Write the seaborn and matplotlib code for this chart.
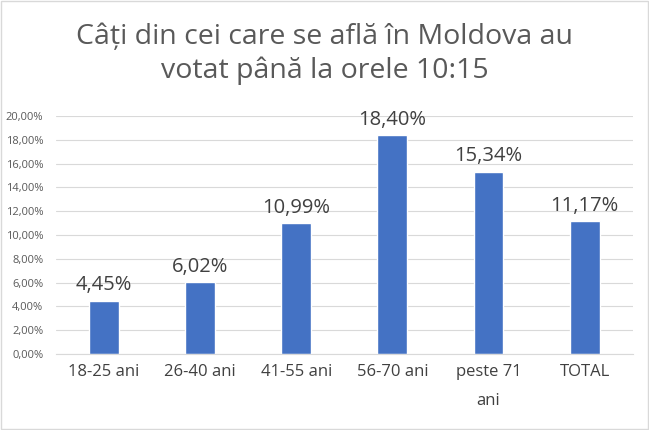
import numpy as np
import pandas as pd
import matplotlib
matplotlib.use("Agg")
import matplotlib.pyplot as plt
import seaborn as sns

categories = ["18-25 ani", "26-40 ani", "41-55 ani", "56-70 ani", "peste 71\nani", "TOTAL"]
values = [4.45, 6.02, 10.99, 18.40, 15.34, 11.17]
labels = ["4,45%", "6,02%", "10,99%", "18,40%", "15,34%", "11,17%"]
yticks = [0, 2, 4, 6, 8, 10, 12, 14, 16, 18, 20]

sns.set_style("white")
plt.rcParams['font.family'] = ['Open Sans', 'DejaVu Sans']

df = pd.DataFrame({"cat": categories, "val": values})

fig = plt.figure(figsize=(6.49, 4.30), dpi=100)
ax = fig.add_axes([0.086, 0.177, 0.889, 0.553])
sns.barplot(data=df, x="cat", y="val", color="#4472C4", saturation=1, width=0.31, ax=ax)

ax.set_ylim(0, 20)
ax.set_yticks(yticks)
ax.set_yticklabels([f"{t},00%" for t in yticks], fontsize=8, color="#595959")
ax.yaxis.grid(True, color="#D9D9D9", linewidth=0.8)
ax.set_axisbelow(True)
for s in ["top", "right", "left"]:
    ax.spines[s].set_visible(False)
ax.spines["bottom"].set_color("#D9D9D9")
ax.tick_params(axis="y", length=0, pad=9)

# tick labels: each line drawn centred under its bar
ax.set_xticks(range(len(categories)), [c.split("\n")[0] for c in categories])
ax.tick_params(axis="x", length=0, labelsize=12, labelcolor="#404040", pad=7)
for i, c in enumerate(categories):
    for j, line in enumerate(c.split("\n")[1:], start=1):
        ax.annotate(line, xy=(i, 0), xycoords=("data", "axes fraction"),
                    xytext=(0, -7 - 21 * j), textcoords="offset points",
                    ha="center", va="top", fontsize=12, color="#404040")
ax.set_xlabel("")
ax.set_ylabel("")

ax.bar_label(ax.containers[0], labels=labels, fontsize=14.5, color="#404040", padding=4)

fig.text(0.5, 0.874, "Câți din cei care se află în Moldova au\nvotat până la orele 10:15",
         ha="center", va="center", fontsize=20.5, color="#595959", linespacing=1.25)

fig.patches.append(plt.Rectangle((0.002, 0.002), 0.996, 0.996, transform=fig.transFigure,
                                 fill=False, edgecolor="#D9D9D9", linewidth=1))

fig.savefig("out.png", dpi=100)
